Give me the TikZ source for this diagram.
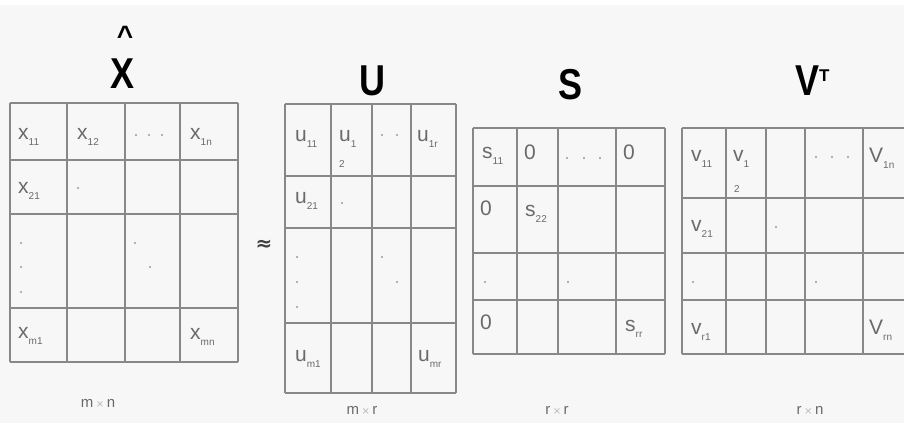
\documentclass[tikz,border=0pt]{standalone}
\usepackage{fontspec}
\setmainfont{Liberation Sans}
\newfontfamily\symfont{DejaVu Sans}
\definecolor{bggray}{HTML}{F7F7F7}
\definecolor{gridgray}{HTML}{888888}
\definecolor{cellgray}{HTML}{6A6A6A}
\definecolor{dotgray}{HTML}{9A9A9A}
\newcommand\mysub[1]{\raisebox{-6pt}{\fontsize{10}{10}\selectfont #1}}
\newcommand\titlefont{\fontsize{36}{36}\selectfont\bfseries}
\tikzset{
  gridline/.style={draw=gridgray, line width=1.4pt},
  ent/.style={inner sep=0pt, anchor=base west, text=cellgray, font=\fontsize{21}{21}\selectfont},
  subent/.style={inner sep=0pt, anchor=base west, text=cellgray, font=\fontsize{10}{10}\selectfont},
  ttl/.style={inner sep=0pt, anchor=base, text=black, font=\titlefont},
  dimlbl/.style={inner sep=0pt, anchor=center, text=cellgray, font=\fontsize{15}{15}\selectfont},
  dotmark/.style={fill=dotgray, circle, inner sep=0pt, minimum size=2.2pt}
}
\newcommand\dimtxt[2]{#1\,{\color{dotgray!70}\fontsize{10}{10}\selectfont\symfont ×}\,#2}
\begin{document}
\begin{tikzpicture}[x=1pt,y=-1pt]
\useasboundingbox (0,0) rectangle (904,423);
\fill[white] (0,0) rectangle (904,5);
\fill[bggray] (0,5) rectangle (904,423);

% ---------- titles ----------
\node[ttl, font=\fontsize{28}{28}\selectfont\bfseries] (hat) at (125,45) {\textasciicircum};
\node[ttl] (tX) at (123,88) {\scalebox{1}[1.2]{X}};
\node[ttl] (tU) at (372,95) {\scalebox{1}[1.2]{U}};
\node[ttl] (tS) at (570,99) {\scalebox{1}[1.2]{S}};
\node[ttl, anchor=base west] (tV) at (795,95) {\scalebox{1}[1.2]{V}\raisebox{14pt}{\fontsize{17}{17}\selectfont T}};

% ---------- X matrix ----------
\foreach \xx in {10,67,125,180,238} \draw[gridline] (\xx,103) -- (\xx,362);
\foreach \yy in {103,160,214,308,362} \draw[gridline] (10,\yy) -- (238,\yy);
\node[ent] (x11) at (18,139) {x\mysub{11}};
\node[ent] (x12) at (77,139) {x\mysub{12}};
\node[ent] (x1n) at (190,139) {x\mysub{1n}};
\node[ent] (x21) at (18,193) {x\mysub{21}};
\node[ent] (xm1) at (18,338) {x\mysub{m1}};
\node[ent] (xmn) at (190,339) {x\mysub{mn}};
\foreach \px/\py in {136/135,149/135,162/135,78/188,21/243,21/267,21/292,135/243,150/267}
  \node[dotmark] at (\px,\py) {};
\node[dimlbl] (dX) at (98,403) {\dimtxt{m}{n}};

% ---------- approx ----------
\node[inner sep=0pt, text=black!75, font=\fontsize{20}{20}\selectfont\symfont\bfseries] (approx) at (264,245) {≈};

% ---------- U matrix ----------
\foreach \xx in {285,331,372,411,456} \draw[gridline] (\xx,104) -- (\xx,393);
\foreach \yy in {104,176,228,323,393} \draw[gridline] (285,\yy) -- (456,\yy);
\node[ent] (u11) at (295,141) {u\mysub{11}};
\node[ent] (u1) at (339,141) {u\mysub{1}};
\node[subent] (u2) at (339,167) {2};
\node[ent] (u1r) at (417,141) {u\mysub{1r}};
\node[ent] (u21) at (295,203) {u\mysub{21}};
\node[ent] (um1) at (295,361) {u\mysub{m1}};
\node[ent] (umr) at (418,361) {u\mysub{mr}};
\foreach \px/\py in {382/135,397/135,342/203,297/257,297/282,297/307,382/257,397/282}
  \node[dotmark] at (\px,\py) {};
\node[dimlbl] (dU) at (362,410) {\dimtxt{m}{r}};

% ---------- S matrix ----------
\foreach \xx in {473,517,558,616,665} \draw[gridline] (\xx,128) -- (\xx,354);
\foreach \yy in {128,186,253,300,354} \draw[gridline] (473,\yy) -- (665,\yy);
\node[ent] (s11) at (482,158) {s\mysub{11}};
\node[ent] (s12) at (524,159) {0};
\node[ent] (s1r) at (623,159) {0};
\node[ent] (s21) at (480,215) {0};
\node[ent] (s22) at (525,216) {s\mysub{22}};
\node[ent] (sr1) at (480,329) {0};
\node[ent] (srr) at (625,331) {s\mysub{rr}};
\foreach \px/\py in {567/158,584/158,600/158,485/282,568/282}
  \node[dotmark] at (\px,\py) {};
\node[dimlbl] (dS) at (557,410) {\dimtxt{r}{r}};

% ---------- V^T matrix ----------
\foreach \xx in {682,726,766,805,863} \draw[gridline] (\xx,128) -- (\xx,354);
\foreach \yy in {128,198,253,300,354} \draw[gridline] (682,\yy) -- (904,\yy);
\node[ent] (v11) at (691,161) {v\mysub{11}};
\node[ent] (v1) at (733,161) {v\mysub{1}};
\node[subent] (v2) at (734,192) {2};
\node[ent] (v1n) at (869,162) {V\mysub{1n}};
\node[ent] (v21) at (691,231) {v\mysub{21}};
\node[ent] (vr1) at (691,334) {v\mysub{r1}};
\node[ent] (vrn) at (869,334) {V\mysub{rn}};
\foreach \px/\py in {816/157,832/157,848/157,776/227,693/282,816/282}
  \node[dotmark] at (\px,\py) {};
\node[dimlbl] (dV) at (810,410) {\dimtxt{r}{n}};
\end{tikzpicture}
\end{document}
